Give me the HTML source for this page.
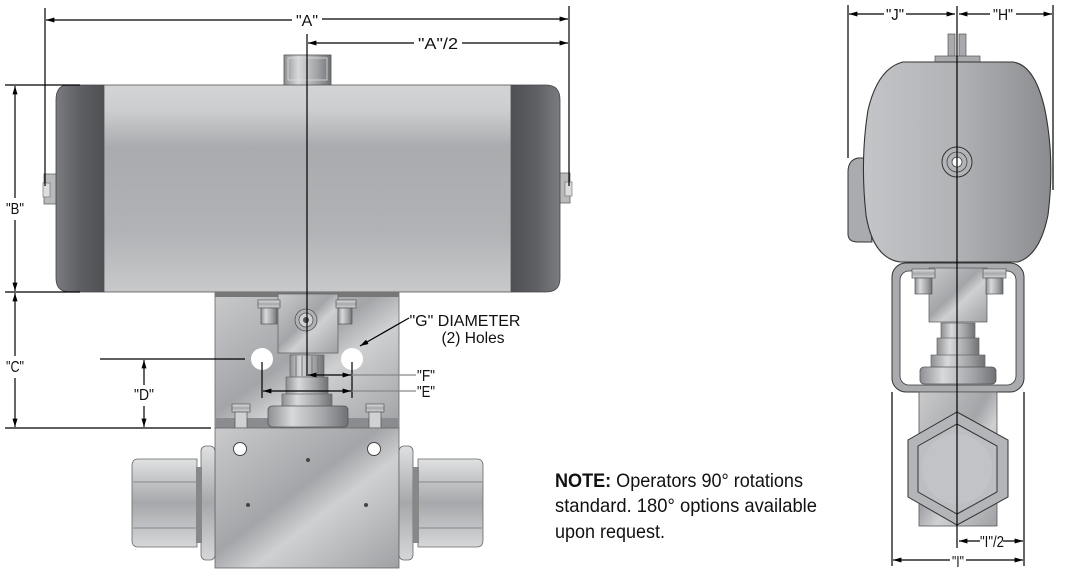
<!DOCTYPE html>
<html><head><meta charset="utf-8"><style>
html,body{margin:0;padding:0;background:#fff;width:1066px;height:574px;overflow:hidden}
svg{display:block}
text{font-family:"Liberation Sans Narrow","Liberation Sans",sans-serif;fill:#111}
</style></head><body>
<svg width="1066" height="574" viewBox="0 0 1066 574" xmlns="http://www.w3.org/2000/svg">
<defs>
<linearGradient id="mid" x1="0" y1="0" x2="0" y2="1">
<stop offset="0" stop-color="#d3d4d6"/><stop offset="0.12" stop-color="#cdced0"/><stop offset="0.3" stop-color="#a9abae"/><stop offset="0.7" stop-color="#b0b2b5"/><stop offset="1" stop-color="#c8c9cb"/></linearGradient>
<linearGradient id="cap" x1="0" y1="0" x2="1" y2="0">
<stop offset="0" stop-color="#7a7c80"/><stop offset="0.5" stop-color="#5d5f63"/><stop offset="1" stop-color="#4e5054"/></linearGradient>
<linearGradient id="capR" x1="0" y1="0" x2="1" y2="0">
<stop offset="0" stop-color="#4e5054"/><stop offset="0.5" stop-color="#5d5f63"/><stop offset="1" stop-color="#7a7c80"/></linearGradient>
<linearGradient id="steel" x1="0" y1="0" x2="1" y2="1">
<stop offset="0" stop-color="#c9cacc"/><stop offset="0.45" stop-color="#a3a5a8"/><stop offset="0.6" stop-color="#cfd0d2"/><stop offset="1" stop-color="#9fa1a4"/></linearGradient>
<linearGradient id="steelV" x1="0" y1="0" x2="0" y2="1">
<stop offset="0" stop-color="#e0e1e2"/><stop offset="0.5" stop-color="#a6a8ab"/><stop offset="1" stop-color="#d6d7d9"/></linearGradient>
<linearGradient id="cyl" x1="0" y1="0" x2="1" y2="0">
<stop offset="0" stop-color="#8d8f92"/><stop offset="0.3" stop-color="#d8d9db"/><stop offset="0.7" stop-color="#a2a4a7"/><stop offset="1" stop-color="#6f7174"/></linearGradient>
<linearGradient id="rbody" x1="0" y1="0" x2="1" y2="0">
<stop offset="0" stop-color="#c4c5c8"/><stop offset="0.5" stop-color="#b0b2b5"/><stop offset="1" stop-color="#8a8c8f"/></linearGradient>
<marker id="ar" viewBox="0 0 10 10" refX="10" refY="5" markerWidth="7" markerHeight="7" orient="auto-start-reverse"><path d="M0,2 L10,5 L0,8 z" fill="#000"/></marker>
</defs>

<!-- ===== MAIN VIEW ===== -->
<rect x="284" y="55" width="47" height="31" fill="url(#cyl)" stroke="#555" stroke-width="0.8"/>
<rect x="288" y="58" width="39" height="22" fill="none" stroke="#ddd" stroke-width="0.8"/>
<rect x="44" y="174" width="13" height="30" fill="#b8b9bb" stroke="#666" stroke-width="0.8"/>
<rect x="43" y="183" width="7" height="14" fill="#ddd" stroke="#666" stroke-width="0.6"/>
<rect x="557" y="173" width="13" height="30" fill="#b8b9bb" stroke="#666" stroke-width="0.8"/>
<rect x="565" y="182" width="7" height="14" fill="#ddd" stroke="#666" stroke-width="0.6"/>
<path d="M104,85 H68 Q56,85 56,100 V278 Q56,292 70,292 H104 Z" fill="url(#cap)" stroke="#444" stroke-width="0.8"/>
<path d="M511,85 H546 Q560,85 560,100 V278 Q560,292 546,292 H511 Z" fill="url(#capR)" stroke="#444" stroke-width="0.8"/>
<rect x="104" y="85" width="407" height="207" fill="url(#mid)" stroke="#555" stroke-width="0.8"/>

<rect x="215" y="292" width="184" height="136" fill="url(#steel)" stroke="#666" stroke-width="0.8"/>
<rect x="215" y="292" width="184" height="5" fill="#777"/>
<rect x="215" y="418" width="184" height="10" fill="#8a8c8f"/>
<rect x="278" y="294" width="60" height="59" fill="url(#steel)" stroke="#666" stroke-width="0.8"/>
<circle cx="306" cy="320" r="11" fill="#b0b2b5" stroke="#555" stroke-width="0.8"/>
<circle cx="306" cy="320" r="7" fill="#d0d1d3" stroke="#555" stroke-width="0.8"/>
<circle cx="306" cy="320" r="3" fill="#555"/>
<rect x="258" y="300" width="22" height="8" fill="url(#steelV)" stroke="#555" stroke-width="0.7"/>
<rect x="261" y="308" width="16" height="16" fill="url(#cyl)" stroke="#555" stroke-width="0.7"/>
<rect x="336" y="300" width="20" height="8" fill="url(#steelV)" stroke="#555" stroke-width="0.7"/>
<rect x="338" y="308" width="14" height="16" fill="url(#cyl)" stroke="#555" stroke-width="0.7"/>
<circle cx="262" cy="359" r="11" fill="#fff"/>
<circle cx="352" cy="359" r="11" fill="#fff"/>
<rect x="290" y="355" width="34" height="22" fill="url(#cyl)" stroke="#666" stroke-width="0.7"/>
<line x1="296" y1="356" x2="296" y2="376" stroke="#777"/><line x1="302" y1="356" x2="302" y2="376" stroke="#777"/><line x1="312" y1="356" x2="312" y2="376" stroke="#777"/><line x1="318" y1="356" x2="318" y2="376" stroke="#777"/>
<rect x="286" y="377" width="42" height="18" fill="url(#cyl)" stroke="#666" stroke-width="0.7"/>
<rect x="282" y="394" width="50" height="14" fill="url(#cyl)" stroke="#666" stroke-width="0.7"/>
<rect x="268" y="406" width="80" height="21" rx="4" fill="url(#cyl)" stroke="#555" stroke-width="0.8"/>
<rect x="232" y="404" width="18" height="8" fill="url(#steelV)" stroke="#555" stroke-width="0.7"/>
<rect x="235" y="412" width="12" height="16" fill="#d0d1d3" stroke="#555" stroke-width="0.7"/>
<rect x="366" y="404" width="18" height="8" fill="url(#steelV)" stroke="#555" stroke-width="0.7"/>
<rect x="369" y="412" width="12" height="16" fill="#d0d1d3" stroke="#555" stroke-width="0.7"/>
<rect x="215" y="428" width="184" height="140" fill="url(#steel)" stroke="#666" stroke-width="0.8"/>
<circle cx="240" cy="449" r="6.5" fill="#fff" stroke="#444" stroke-width="1"/>
<circle cx="374" cy="449" r="6.5" fill="#fff" stroke="#444" stroke-width="1"/>
<circle cx="308" cy="460" r="2" fill="#444"/>
<circle cx="248" cy="505" r="2" fill="#444"/>
<circle cx="366" cy="505" r="2" fill="#444"/>
<rect x="201" y="446" width="14" height="114" rx="5" fill="url(#steelV)" stroke="#666" stroke-width="0.8"/>
<path d="M138,459 H197 V547 H138 Q132,547 132,540 V466 Q132,459 138,459 Z" fill="url(#steelV)" stroke="#666" stroke-width="0.8"/>
<line x1="133" y1="482" x2="196" y2="482" stroke="#888"/><line x1="133" y1="528" x2="196" y2="528" stroke="#888"/>
<rect x="196" y="467" width="6" height="76" fill="#888"/>
<rect x="399" y="446" width="14" height="114" rx="5" fill="url(#steelV)" stroke="#666" stroke-width="0.8"/>
<path d="M418,459 H477 Q483,459 483,466 V540 Q483,547 477,547 H418 Z" fill="url(#steelV)" stroke="#666" stroke-width="0.8"/>
<line x1="419" y1="482" x2="482" y2="482" stroke="#888"/><line x1="419" y1="528" x2="482" y2="528" stroke="#888"/>
<rect x="413" y="467" width="6" height="76" fill="#888"/>

<g stroke="#000" stroke-width="1.2" fill="none">
<line x1="45" y1="8" x2="45" y2="186"/>
<line x1="569" y1="6" x2="569" y2="186"/>
<line x1="46" y1="20" x2="292" y2="20" marker-start="url(#ar)"/>
<line x1="322" y1="19" x2="568" y2="19" marker-end="url(#ar)"/>
<line x1="307" y1="34" x2="307" y2="376"/>
<line x1="308" y1="43" x2="414" y2="43" marker-start="url(#ar)"/>
<line x1="462" y1="43" x2="568" y2="43" marker-end="url(#ar)"/>
<line x1="5" y1="85" x2="80" y2="85"/>
<line x1="5" y1="292" x2="80" y2="292"/>
<line x1="15" y1="86" x2="15" y2="198" marker-start="url(#ar)"/>
<line x1="15" y1="220" x2="15" y2="291" marker-end="url(#ar)"/>
<line x1="15" y1="293" x2="15" y2="356" marker-start="url(#ar)"/>
<line x1="15" y1="378" x2="15" y2="427" marker-end="url(#ar)"/>
<line x1="5" y1="428" x2="211" y2="428"/>
<line x1="100" y1="359" x2="245" y2="359"/>
<line x1="144" y1="360" x2="144" y2="385" marker-start="url(#ar)"/>
<line x1="144" y1="406" x2="144" y2="427" marker-end="url(#ar)"/>
<line x1="262" y1="362" x2="262" y2="398"/>
<line x1="352" y1="362" x2="352" y2="398"/>
<line x1="263" y1="391" x2="351" y2="391" marker-start="url(#ar)" marker-end="url(#ar)"/>
<line x1="308" y1="375" x2="351" y2="375" marker-start="url(#ar)" marker-end="url(#ar)"/>
<line x1="409" y1="318" x2="360" y2="346" marker-end="url(#ar)"/>
</g>
<g stroke="#888" stroke-width="1.2">
<line x1="352" y1="375" x2="416" y2="375"/>
<line x1="352" y1="391" x2="416" y2="391"/>
</g>
<g font-size="16" text-anchor="middle" lengthAdjust="spacingAndGlyphs">
<text x="307" y="26" textLength="22" lengthAdjust="spacingAndGlyphs">"A"</text>
<text x="438" y="49" textLength="40" lengthAdjust="spacingAndGlyphs">"A"/2</text>
<text x="15" y="214" textLength="18" lengthAdjust="spacingAndGlyphs">"B"</text>
<text x="15" y="372" textLength="18" lengthAdjust="spacingAndGlyphs">"C"</text>
<text x="144" y="400" textLength="20" lengthAdjust="spacingAndGlyphs">"D"</text>
<text x="426" y="381" textLength="18" lengthAdjust="spacingAndGlyphs">"F"</text>
<text x="426" y="397" textLength="18" lengthAdjust="spacingAndGlyphs">"E"</text>
<text x="465" y="326" textLength="111" lengthAdjust="spacingAndGlyphs">"G" DIAMETER</text>
<text x="473" y="343" textLength="63" lengthAdjust="spacingAndGlyphs">(2) Holes</text>
</g>

<g font-size="19.5">
<text x="555" y="487" textLength="248" lengthAdjust="spacingAndGlyphs"><tspan font-weight="bold">NOTE:</tspan> Operators 90° rotations</text>
<text x="555" y="512" textLength="262" lengthAdjust="spacingAndGlyphs">standard. 180° options available</text>
<text x="555" y="538" textLength="110" lengthAdjust="spacingAndGlyphs">upon request.</text>
</g>

<!-- ===== SIDE VIEW ===== -->
<rect x="948" y="34" width="7" height="23" fill="#a8aaad" stroke="#555" stroke-width="0.7"/>
<rect x="959" y="34" width="7" height="23" fill="#a8aaad" stroke="#555" stroke-width="0.7"/>
<rect x="935" y="56" width="45" height="7" fill="#a8aaad" stroke="#555" stroke-width="0.7"/>
<path d="M865,158 H858 Q848,160 848,172 V234 Q848,242 858,242 H872 Z" fill="#a9abae" stroke="#333" stroke-width="1"/>
<path d="M903,62 H1013 Q1035,65 1045,110 Q1055,160 1048,215 Q1040,255 1018,262 H900 Q873,258 866,215 Q860,160 868,110 Q878,68 903,62 Z" fill="url(#rbody)" stroke="#333" stroke-width="1.1"/>
<circle cx="957" cy="162" r="15" fill="#b2b4b7" stroke="#333" stroke-width="1"/>
<circle cx="957" cy="162" r="10" fill="none" stroke="#444" stroke-width="0.8"/>
<circle cx="957" cy="162" r="5" fill="#fff" stroke="#444" stroke-width="0.8"/>
<rect x="892" y="263" width="132" height="129" rx="14" fill="#a9abae" stroke="#333" stroke-width="1"/>
<rect x="900" y="271" width="116" height="114" rx="9" fill="#fff" stroke="#333" stroke-width="0.8"/>
<rect x="929" y="268" width="58" height="54" fill="url(#steel)" stroke="#555" stroke-width="0.7"/>
<rect x="912" y="269" width="23" height="9" fill="url(#steelV)" stroke="#555" stroke-width="0.7"/>
<rect x="915" y="278" width="17" height="16" fill="url(#cyl)" stroke="#555" stroke-width="0.7"/>
<rect x="983" y="269" width="23" height="9" fill="url(#steelV)" stroke="#555" stroke-width="0.7"/>
<rect x="986" y="278" width="17" height="16" fill="url(#cyl)" stroke="#555" stroke-width="0.7"/>
<rect x="941" y="323" width="34" height="16" fill="url(#cyl)" stroke="#666" stroke-width="0.7"/>
<rect x="937" y="338" width="42" height="18" fill="url(#cyl)" stroke="#666" stroke-width="0.7"/>
<rect x="931" y="355" width="54" height="13" fill="url(#cyl)" stroke="#666" stroke-width="0.7"/>
<rect x="920" y="367" width="76" height="17" rx="4" fill="url(#cyl)" stroke="#555" stroke-width="0.8"/>
<rect x="919" y="392" width="78" height="134" fill="url(#steel)" stroke="#555" stroke-width="0.8"/>
<polygon points="957,412 1008,440 1008,497 957,525 908,497 908,440" fill="#b3b5b8" stroke="#333" stroke-width="1"/>
<polygon points="957,424 997,446 997,492 957,514 918,492 918,446" fill="#bdbec1" stroke="#333" stroke-width="1"/>
<circle cx="957" cy="469" r="35" fill="#c4c5c8" opacity="0.7"/>
<g stroke="#000" stroke-width="1.2" fill="none">
<line x1="848" y1="5" x2="848" y2="158"/>
<line x1="1053" y1="5" x2="1053" y2="190"/>
<line x1="849" y1="14" x2="884" y2="14" marker-start="url(#ar)"/>
<line x1="906" y1="14" x2="955" y2="14" marker-end="url(#ar)"/>
<line x1="959" y1="14" x2="990" y2="14" marker-start="url(#ar)"/>
<line x1="1016" y1="14" x2="1052" y2="14" marker-end="url(#ar)"/>
<line x1="957" y1="6" x2="957" y2="548"/>
<line x1="892" y1="392" x2="892" y2="566"/>
<line x1="1024" y1="392" x2="1024" y2="566"/>
<line x1="959" y1="541" x2="980" y2="541" marker-start="url(#ar)"/>
<line x1="1003" y1="541" x2="1023" y2="541" marker-end="url(#ar)"/>
<line x1="893" y1="560" x2="950" y2="560" marker-start="url(#ar)"/>
<line x1="966" y1="560" x2="1023" y2="560" marker-end="url(#ar)"/>
</g>
<g font-size="16" text-anchor="middle">
<text x="895" y="20" textLength="18" lengthAdjust="spacingAndGlyphs">"J"</text>
<text x="1003" y="20" textLength="20" lengthAdjust="spacingAndGlyphs">"H"</text>
<text x="992" y="547" textLength="24" lengthAdjust="spacingAndGlyphs">"I"/2</text>
<text x="958" y="567" textLength="12" lengthAdjust="spacingAndGlyphs">"I"</text>
</g>
</svg>
</body></html>
